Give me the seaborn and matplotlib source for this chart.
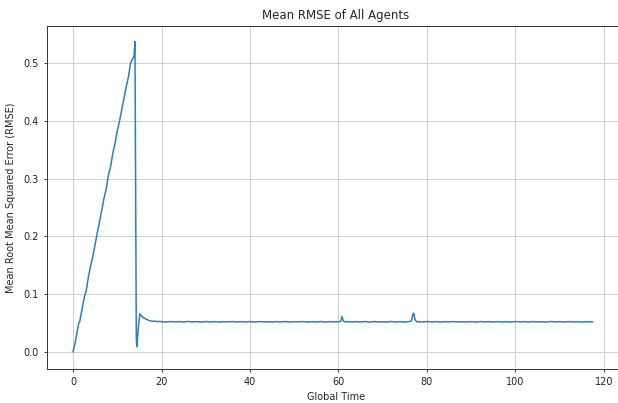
import matplotlib
matplotlib.use("Agg")
import matplotlib.pyplot as plt
import seaborn as sns
import pandas as pd

# Rising phase (Global Time, mean RMSE)
rise_time = [0.0, 0.5, 1.0, 1.3, 1.5, 2.0, 2.5, 3.0, 3.5, 4.0, 4.5, 5.0, 5.5, 6.0, 6.5,
             7.0, 7.5, 8.0, 8.5, 9.0, 9.5, 10.0, 10.5, 11.0, 11.5, 12.0, 12.5, 13.0,
             13.5, 13.8, 14.0]
rise_rmse = [0.000, 0.017, 0.037, 0.050, 0.052, 0.072, 0.093, 0.107, 0.131, 0.150, 0.166,
             0.187, 0.207, 0.226, 0.245, 0.266, 0.282, 0.306, 0.321, 0.344, 0.361, 0.382,
             0.399, 0.419, 0.439, 0.458, 0.475, 0.499, 0.508, 0.512, 0.537]

# Drop and recovery
drop_time = [14.3, 14.4, 14.8, 15.1, 15.5, 16.0, 16.5, 17.0, 17.5, 18.0, 18.5, 19.0, 19.5]
drop_rmse = [0.030, 0.009, 0.045, 0.066, 0.062, 0.059, 0.057, 0.055, 0.054, 0.053, 0.0535,
             0.0525, 0.053]

# Steady phase
flat_time = [20, 21, 22, 23, 24, 25, 26, 27, 28, 29, 30, 31, 32, 33, 34, 35, 36, 37, 38, 39,
             40, 41, 42, 43, 44, 45, 46, 47, 48, 49, 50, 51, 52, 53, 54, 55, 56, 57, 58, 59,
             60, 60.5, 60.8, 61.1, 61.5, 62, 63, 64, 65, 66, 67, 68, 69, 70, 71, 72, 73, 74,
             75, 76, 76.5, 76.8, 77.0, 77.3, 77.7, 78, 79, 80, 81, 82, 83, 84, 85, 86, 87,
             88, 89, 90, 91, 92, 93, 94, 95, 96, 97, 98, 99, 100, 101, 102, 103, 104, 105,
             106, 107, 108, 109, 110, 111, 112, 113, 114, 115, 116, 117, 117.5]
flat_rmse = [0.0525, 0.0518, 0.0527, 0.0520, 0.0526, 0.0519, 0.0528, 0.0521, 0.0525, 0.0519,
             0.0527, 0.0520, 0.0526, 0.0518, 0.0524, 0.0521, 0.0527, 0.0519, 0.0525, 0.0520,
             0.0526, 0.0518, 0.0527, 0.0521, 0.0524, 0.0519, 0.0526, 0.0520, 0.0527, 0.0518,
             0.0525, 0.0521, 0.0526, 0.0519, 0.0524, 0.0520, 0.0527, 0.0518, 0.0525, 0.0521,
             0.0524, 0.0530, 0.0612, 0.0535, 0.0520, 0.0526, 0.0519, 0.0525, 0.0520, 0.0527,
             0.0518, 0.0526, 0.0521, 0.0524, 0.0519, 0.0527, 0.0520, 0.0525, 0.0518, 0.0526,
             0.0540, 0.0650, 0.0670, 0.0560, 0.0522, 0.0525, 0.0519, 0.0527, 0.0520, 0.0526,
             0.0518, 0.0525, 0.0521, 0.0527, 0.0519, 0.0524, 0.0520, 0.0526, 0.0518, 0.0527,
             0.0521, 0.0525, 0.0519, 0.0526, 0.0520, 0.0524, 0.0518, 0.0527, 0.0521, 0.0525,
             0.0519, 0.0526, 0.0520, 0.0524, 0.0518, 0.0527, 0.0521, 0.0525, 0.0519, 0.0526,
             0.0520, 0.0524, 0.0518, 0.0525, 0.0521, 0.0522]

x_ticks = [0, 20, 40, 60, 80, 100, 120]
y_ticks = [0.0, 0.1, 0.2, 0.3, 0.4, 0.5]

df = pd.DataFrame({
    "Global Time": rise_time + drop_time + flat_time,
    "RMSE": rise_rmse + drop_rmse + flat_rmse,
})

sns.set_style("ticks")
plt.rcParams["font.family"] = ["DejaVu Sans"]

fig = plt.figure(figsize=(6.18, 4.03), dpi=100)
ax = fig.add_axes([47 / 618, (403 - 369) / 403, (625 - 47) / 618, (369 - 26) / 403])

sns.lineplot(data=df, x="Global Time", y="RMSE", ax=ax, color="#2a7fbf",
             linewidth=1.1, sort=False, estimator=None)

ax.set_xticks(x_ticks)
ax.set_yticks(y_ticks)
ax.set_xlim(-5.88, 124.75)
ax.set_ylim(-0.0294, 0.564)
ax.grid(True, color="#cfcfcf", linewidth=0.7)
ax.tick_params(labelsize=7, length=2.5, width=0.6, colors="#222222")
for s in ax.spines.values():
    s.set_linewidth(0.7)
    s.set_color("#333333")

ax.set_title("Mean RMSE of All Agents", fontsize=8.5, pad=5)
ax.set_xlabel("Global Time", fontsize=7, labelpad=3)
ax.set_ylabel("Mean Root Mean Squared Error (RMSE)", fontsize=7, labelpad=5)

fig.savefig("out.png", dpi=100)
